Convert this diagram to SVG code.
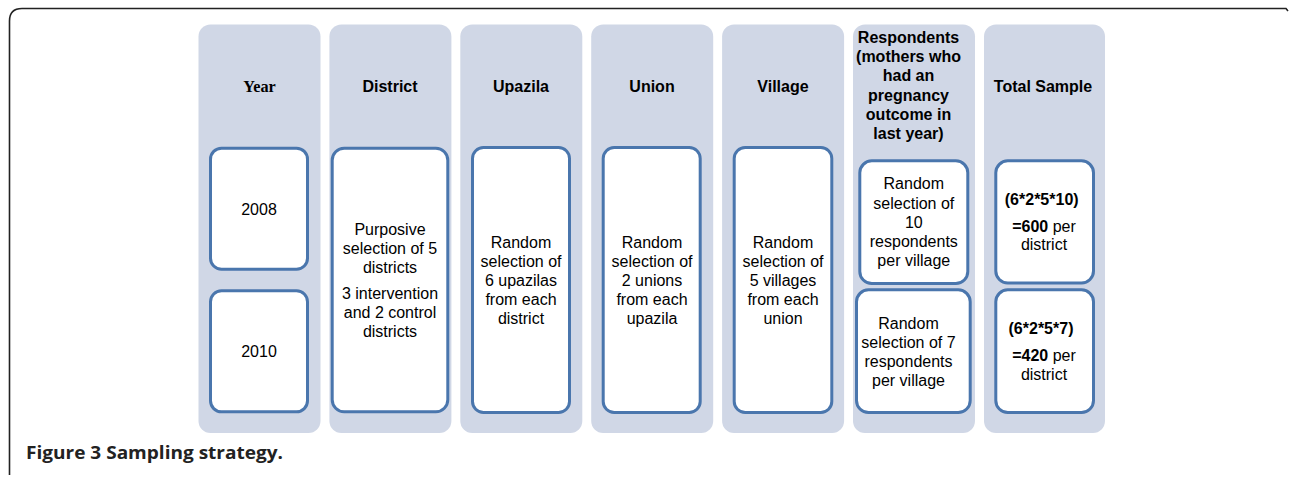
<svg xmlns="http://www.w3.org/2000/svg" width="1290" height="477" viewBox="0 0 1290 477">
<style>
.col{fill:#d0d7e6;}
.box{fill:#ffffff;stroke:#4a76ad;stroke-width:3;}
.hd{font-family:"Liberation Sans",Arial,sans-serif;font-weight:bold;font-size:16px;fill:#000;text-anchor:middle;}
.hdt{font-family:"Liberation Serif","Times New Roman",serif;font-weight:bold;font-size:17px;fill:#000;text-anchor:middle;}
.tx{font-family:"Liberation Sans",Arial,sans-serif;font-size:16px;fill:#000;text-anchor:middle;}
.b{font-weight:bold;}
.cap{font-family:"Open Sans","Liberation Sans",sans-serif;font-weight:bold;font-size:17px;fill:#222;}
</style>
<rect width="1290" height="477" fill="#fff"/>
<path d="M9.5,475 L9.5,21 Q9.5,8.5 22,8.5 L1286,8.5 L1288,11" fill="none" stroke="#222" stroke-width="1.6"/>

<g id="col-year">
<rect class="col" x="198.5" y="24.5" width="122" height="408.5" rx="12"/>
<text class="hdt" x="259.5" y="91.5" textLength="32.5" lengthAdjust="spacingAndGlyphs">Year</text>
<rect class="box" x="210.5" y="148.2" width="97" height="121" rx="11"/>
<text class="tx" x="259" y="214.9">2008</text>
<rect class="box" x="210.5" y="290.8" width="97" height="121" rx="11"/>
<text class="tx" x="259" y="356.6">2010</text>
</g>

<g id="col-district">
<rect class="col" x="329.4" y="24.5" width="122" height="408.5" rx="12"/>
<text class="hd" x="390" y="91.5">District</text>
<rect class="box" x="332.2" y="148.2" width="115.6" height="263.6" rx="12"/>
<text class="tx" x="390" y="234.9">Purposive</text>
<text class="tx" x="390" y="253.8">selection of 5</text>
<text class="tx" x="390" y="272.7">districts</text>
<text class="tx" x="390" y="299.2">3 intervention</text>
<text class="tx" x="390" y="318.1">and 2 control</text>
<text class="tx" x="390" y="337.2">districts</text>
</g>

<g id="col-upazila">
<rect class="col" x="460.3" y="24.5" width="122" height="408.5" rx="12"/>
<text class="hd" x="521" y="91.5">Upazila</text>
<rect class="box" x="472.5" y="147.5" width="97" height="265" rx="11"/>
<text class="tx" x="521" y="247.6">Random</text>
<text class="tx" x="521" y="266.6">selection of</text>
<text class="tx" x="521" y="285.6">6 upazilas</text>
<text class="tx" x="521" y="304.6">from each</text>
<text class="tx" x="521" y="324.2">district</text>
</g>

<g id="col-union">
<rect class="col" x="591.2" y="24.5" width="122" height="408.5" rx="12"/>
<text class="hd" x="652" y="91.5">Union</text>
<rect class="box" x="603.2" y="147.5" width="97" height="265" rx="11"/>
<text class="tx" x="652" y="247.6">Random</text>
<text class="tx" x="652" y="266.6">selection of</text>
<text class="tx" x="652" y="285.6">2 unions</text>
<text class="tx" x="652" y="304.6">from each</text>
<text class="tx" x="652" y="324.2">upazila</text>
</g>

<g id="col-village">
<rect class="col" x="722.1" y="24.5" width="122" height="408.5" rx="12"/>
<text class="hd" x="783" y="91.5">Village</text>
<rect class="box" x="734.2" y="147.5" width="97.6" height="265" rx="11"/>
<text class="tx" x="783" y="247.6">Random</text>
<text class="tx" x="783" y="266.6">selection of</text>
<text class="tx" x="783" y="285.6">5 villages</text>
<text class="tx" x="783" y="304.6">from each</text>
<text class="tx" x="783" y="324.2">union</text>
</g>

<g id="col-respondents">
<rect class="col" x="853" y="24.5" width="122" height="408.5" rx="12"/>
<text class="hd" x="908.5" y="43">Respondents</text>
<text class="hd" x="908.5" y="62.2">(mothers who</text>
<text class="hd" x="908.5" y="81.4">had an</text>
<text class="hd" x="908.5" y="100.6">pregnancy</text>
<text class="hd" x="908.5" y="119.8">outcome in</text>
<text class="hd" x="908.5" y="139">last year)</text>
<rect class="box" x="859.8" y="160.8" width="108" height="122.7" rx="12"/>
<text class="tx" x="913.8" y="189.2">Random</text>
<text class="tx" x="913.8" y="208.5">selection of</text>
<text class="tx" x="913.8" y="227.8">10</text>
<text class="tx" x="913.8" y="247">respondents</text>
<text class="tx" x="913.8" y="266.4">per village</text>
<rect class="box" x="856.5" y="289.8" width="113.7" height="122.7" rx="12"/>
<text class="tx" x="908.5" y="328.6">Random</text>
<text class="tx" x="908.5" y="347.7">selection of 7</text>
<text class="tx" x="908.5" y="366.9">respondents</text>
<text class="tx" x="908.5" y="386">per village</text>
</g>

<g id="col-total">
<rect class="col" x="984" y="24.5" width="121" height="408.5" rx="12"/>
<text class="hd" x="1043" y="91.5">Total Sample</text>
<rect class="box" x="995.8" y="160.8" width="97.7" height="122.2" rx="12"/>
<text class="tx b" x="1041.7" y="205.2">(6*2*5*10)</text>
<text class="tx" x="1044" y="231.9"><tspan class="b">=600</tspan> per</text>
<text class="tx" x="1044" y="250.2">district</text>
<rect class="box" x="995.8" y="289.8" width="97.7" height="122.7" rx="12"/>
<text class="tx b" x="1041" y="334.2">(6*2*5*7)</text>
<text class="tx" x="1044" y="360.9"><tspan class="b">=420</tspan> per</text>
<text class="tx" x="1044" y="379.6">district</text>
</g>

<g id="connectors"></g>

<text class="cap" x="26" y="459" textLength="257" lengthAdjust="spacingAndGlyphs">Figure 3 Sampling strategy.</text>
</svg>
